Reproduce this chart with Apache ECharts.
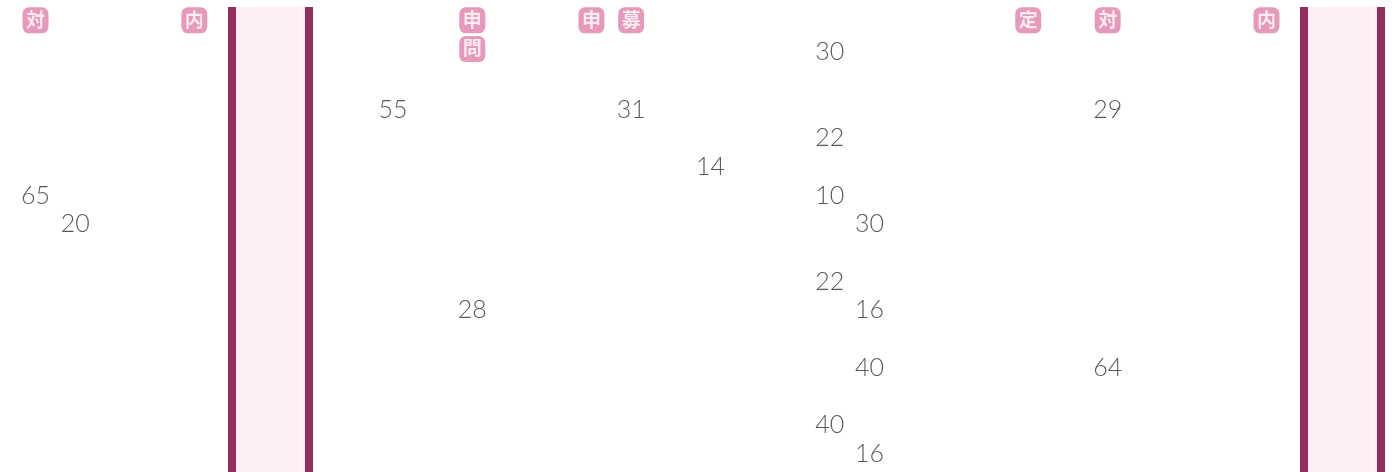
<!DOCTYPE html>
<html>
<head>
<meta charset="utf-8">
<script src="https://cdn.jsdelivr.net/npm/echarts@6/dist/echarts.min.js"></script>
<style>
html,body{margin:0;padding:0;background:#fff;}
#chart{width:1395px;height:472px;}
</style>
</head>
<body>
<div id="chart"></div>
<script>
// Numbers: column index, row index, value
const valueCols = [0, 1, 9, 11, 15, 17, 20, 20, 20, 21, 20, 21, 21, 27, 27, 20, 21];
const valueRows = [5, 6, 2, 9, 2, 4, 0, 3, 5, 6, 8, 9, 11, 2, 11, 13, 14];
const values    = [65, 20, 55, 28, 31, 14, 30, 22, 10, 30, 22, 16, 40, 29, 64, 40, 16];

// Badges: column index, row index, label
const badgeCols   = [0, 4, 11, 11, 14, 15, 25, 27, 31];
const badgeRows   = [-1, -1, -1, 0, -1, -1, -1, -1, -1];
const badgeLabels = ['対', '内', '申', '問', '申', '募', '定', '対', '内'];

// Shaded column bands: [start, end] in column units
const bandStarts = [4.95, 31.95];
const bandEnds   = [6.87, 33.87];

const numberData = values.map((v, i) => [valueCols[i], valueRows[i], v]);
const badgeData = badgeLabels.map((t, i) => [badgeCols[i], badgeRows[i], t]);

const chart = echarts.init(document.getElementById('chart'), null, {renderer: 'canvas'});
chart.setOption({
  animation: false,
  backgroundColor: '#ffffff',
  grid: {left: 35.5, right: 9.4, top: 7, bottom: 0, containLabel: false},
  xAxis: {type: 'value', min: 0, max: 34, show: false},
  yAxis: {type: 'value', min: -1.5, max: 14.7, inverse: true, show: false},
  series: [
    {
      type: 'scatter',
      data: [],
      silent: true,
      markArea: {
        silent: true,
        itemStyle: {color: '#fdedf4'},
        data: bandStarts.map((s, i) => [{xAxis: s, yAxis: 'min'}, {xAxis: bandEnds[i], yAxis: 'max'}])
      },
      markLine: {
        silent: true,
        symbol: ['none', 'none'],
        label: {show: false},
        lineStyle: {color: '#952c5f', width: 8, type: 'solid'},
        data: bandStarts.concat(bandEnds).map(x => ({xAxis: x}))
      }
    },
    {
      type: 'scatter',
      data: badgeData,
      symbol: 'roundRect',
      symbolSize: 26,
      symbolOffset: [0, -1],
      silent: true,
      itemStyle: {color: '#e07fa9'},
      label: {
        show: true,
        position: 'inside',
        offset: [0, -1],
        formatter: p => p.value[2],
        color: '#ffffff',
        fontFamily: 'Noto Sans CJK JP',
        fontWeight: 'bold',
        fontSize: 19
      }
    },
    {
      type: 'scatter',
      data: numberData,
      symbolSize: 1,
      silent: true,
      itemStyle: {color: 'rgba(0,0,0,0)'},
      label: {
        show: true,
        position: 'inside',
        offset: [0, 2],
        formatter: p => p.value[2],
        color: '#303030',
        fontFamily: 'Lato',
        fontWeight: 300,
        fontSize: 25
      }
    }
  ]
});
</script>
</body>
</html>
